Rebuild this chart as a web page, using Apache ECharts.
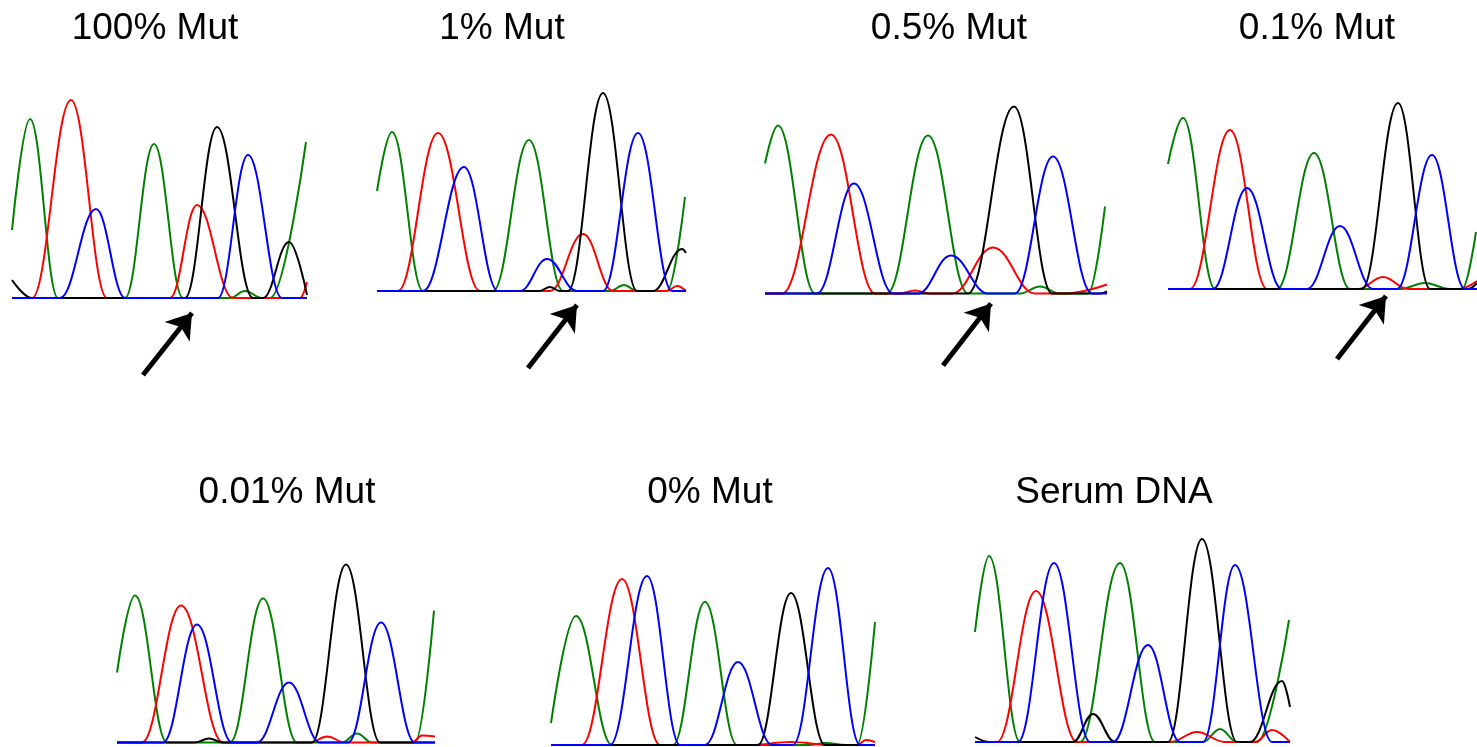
<!DOCTYPE html>
<html>
<head>
<meta charset="utf-8">
<script src="https://cdn.jsdelivr.net/npm/echarts@6/dist/echarts.min.js"></script>
<style>
  html, body { margin: 0; padding: 0; background: #fff; }
  #main { width: 1477px; height: 747px; }
</style>
</head>
<body>
<div id="main"></div>
<script>
// panel titles
const titles = ['100% Mut', '1% Mut', '0.5% Mut', '0.1% Mut', '0.01% Mut', '0% Mut', 'Serum DNA'];

// traces: [scan position, signal]
const p1Green = [[0,68],[18,179],[46,0],[113,0],[142,154],[171,0],[218,0],[233,7],[250,0],[258,0],[294,156]];
const p1Red   = [[0,0],[20,0],[59,198],[95,0],[158,0],[185,93],[221,0],[288,0],[295,16]];
const p1Blue  = [[0,0],[48,0],[84,89],[113,0],[206,0],[236,143],[270,0],[295,0]];
const p1Black = [[0,18],[20,0],[173,0],[205,171],[241,0],[251,0],[277,56],[295,3]];

const p2Green = [[0,100],[15,159],[46,0],[116,0],[152,151],[186,0],[233,0],[247,6],[260,0],[290,0],[308,94]];
const p2Red   = [[0,0],[21,0],[61,158],[103,0],[173,0],[206,57],[236,0],[290,0],[300,5],[309,0]];
const p2Blue  = [[0,0],[46,0],[87,124],[121,0],[143,0],[170,32],[200,0],[226,0],[261,158],[295,0],[309,0]];
const p2Black = [[0,0],[162,0],[173,4],[183,0],[191,0],[226,198],[260,0],[276,0],[305,42],[309,38]];

const p3Green = [[0,130],[13,168],[50,0],[122,0],[163,158],[203,0],[255,0],[275,7],[295,0],[323,0],[340,87]];
const p3Red   = [[0,0],[17,0],[66,159],[110,0],[135,0],[150,3],[165,0],[187,0],[228,46],[270,0],[300,0],[342,9]];
const p3Blue  = [[0,0],[52,0],[89,110],[128,0],[153,0],[186,38],[223,0],[250,0],[288,137],[327,0],[342,0]];
const p3Black = [[0,0],[203,0],[249,187],[287,0],[335,0],[342,2]];

const p4Green = [[0,125],[15,171],[47,0],[109,0],[146,136],[182,0],[232,0],[257,6],[282,0],[294,0],[308,57]];
const p4Red   = [[0,0],[22,0],[62,159],[99,0],[190,0],[215,12],[240,0],[290,0],[309,8]];
const p4Blue  = [[0,0],[45,0],[79,101],[114,0],[139,0],[172,63],[205,0],[229,0],[264,134],[297,0],[309,0]];
const p4Black = [[0,0],[194,0],[230,186],[262,0],[300,0],[309,6]];

const p5Green = [[0,70],[18,147],[50,0],[113,0],[146,144],[180,0],[225,0],[240,9],[255,0],[298,0],[317,132]];
const p5Red   = [[0,0],[25,0],[64,137],[106,0],[193,0],[210,6],[228,0],[295,0],[305,7],[318,6]];
const p5Blue  = [[0,0],[46,0],[80,118],[115,0],[140,0],[172,60],[203,0],[231,0],[264,120],[298,0],[318,0]];
const p5Black = [[0,0],[78,0],[92,4],[106,0],[195,0],[229,178],[263,0],[318,0]];

const p6Green = [[0,22],[25,129],[61,0],[122,0],[154,143],[186,0],[258,0],[275,2],[295,0],[306,0],[324,123]];
const p6Red   = [[0,0],[31,0],[71,166],[109,0],[200,0],[240,3],[280,0],[306,0],[315,5],[324,3]];
const p6Blue  = [[0,0],[59,0],[96,169],[129,0],[154,0],[187,83],[221,0],[242,0],[277,177],[309,0],[324,0]];
const p6Black = [[0,0],[207,0],[240,152],[274,0],[324,0]];

const p7Green = [[0,110],[14,186],[45,0],[105,0],[145,179],[180,0],[228,0],[245,13],[262,0],[282,0],[314,122]];
const p7Red   = [[0,0],[22,0],[61,151],[102,0],[195,0],[222,10],[250,0],[280,0],[297,12],[315,0]];
const p7Blue  = [[0,0],[43,0],[79,179],[115,0],[138,0],[173,97],[205,0],[228,0],[260,177],[297,0],[315,0]];
const p7Black = [[0,5],[15,0],[98,0],[118,28],[140,0],[193,0],[227,203],[262,0],[275,0],[307,61],[315,35]];

// arrows marking the mutated base (top row only)
const arrowTail = [[131,-77],[151,-77],[178,-72],[169,-70]];
const arrowTip  = [[180,-15],[200,-14],[226,-10],[218,-7]];

const traces = [
  [p1Green, p1Red, p1Black, p1Blue],
  [p2Green, p2Red, p2Black, p2Blue],
  [p3Green, p3Red, p3Black, p3Blue],
  [p4Green, p4Red, p4Black, p4Blue],
  [p5Green, p5Red, p5Black, p5Blue],
  [p6Green, p6Red, p6Black, p6Blue],
  [p7Green, p7Red, p7Black, p7Blue]
];
const colors = ['#008000', '#ff0000', '#000000', '#0000ff'];

// layout: panel left edge, baseline y, width (px); title centre
const layout = [
  { left: 12,   base: 298,   width: 295, tx: 155,  ty: 29 },
  { left: 377,  base: 291,   width: 309, tx: 502,  ty: 29 },
  { left: 765,  base: 293.5, width: 342, tx: 949,  ty: 29 },
  { left: 1168, base: 289,   width: 309, tx: 1317, ty: 29 },
  { left: 117,  base: 742.5, width: 318, tx: 287,  ty: 493 },
  { left: 551,  base: 745,   width: 324, tx: 710,  ty: 493 },
  { left: 975,  base: 742,   width: 315, tx: 1114, ty: 493 }
];
const yTop = 210, yBelow = 90;

const chart = echarts.init(document.getElementById('main'), null, { renderer: 'canvas' });

const grid = [], xAxis = [], yAxis = [], series = [], graphic = [];
layout.forEach((p, i) => {
  const below = i < 4 ? yBelow : 0;
  grid.push({ left: p.left, top: p.base - yTop, width: p.width, height: yTop + below, containLabel: false });
  xAxis.push({ type: 'value', gridIndex: i, min: 0, max: p.width, show: false });
  yAxis.push({ type: 'value', gridIndex: i, min: -below, max: yTop, show: false });
  traces[i].forEach((d, k) => {
    const s = {
      type: 'line',
      xAxisIndex: i,
      yAxisIndex: i,
      data: d,
      smooth: 0.4,
      smoothMonotone: 'x',
      showSymbol: false,
      clip: false,
      silent: true,
      lineStyle: { color: colors[k], width: 2 }
    };
    if (k === 0 && i < 4) {
      s.markLine = {
        silent: true,
        symbol: ['none', 'arrow'],
        symbolSize: 24,
        label: { show: false },
        lineStyle: { color: '#000', width: 5, type: 'solid' },
        data: [[{ coord: arrowTail[i] }, { coord: arrowTip[i] }]]
      };
    }
    series.push(s);
  });
  graphic.push({
    type: 'text',
    x: p.tx,
    y: p.ty,
    style: {
      text: titles[i],
      font: '37px "Liberation Sans", Arial, sans-serif',
      fill: '#000',
      align: 'center',
      verticalAlign: 'middle',
      textAlign: 'center',
      textVerticalAlign: 'middle'
    }
  });
});

chart.setOption({
  animation: false,
  backgroundColor: '#fff',
  grid: grid,
  xAxis: xAxis,
  yAxis: yAxis,
  series: series,
  graphic: graphic
});
</script>
</body>
</html>
